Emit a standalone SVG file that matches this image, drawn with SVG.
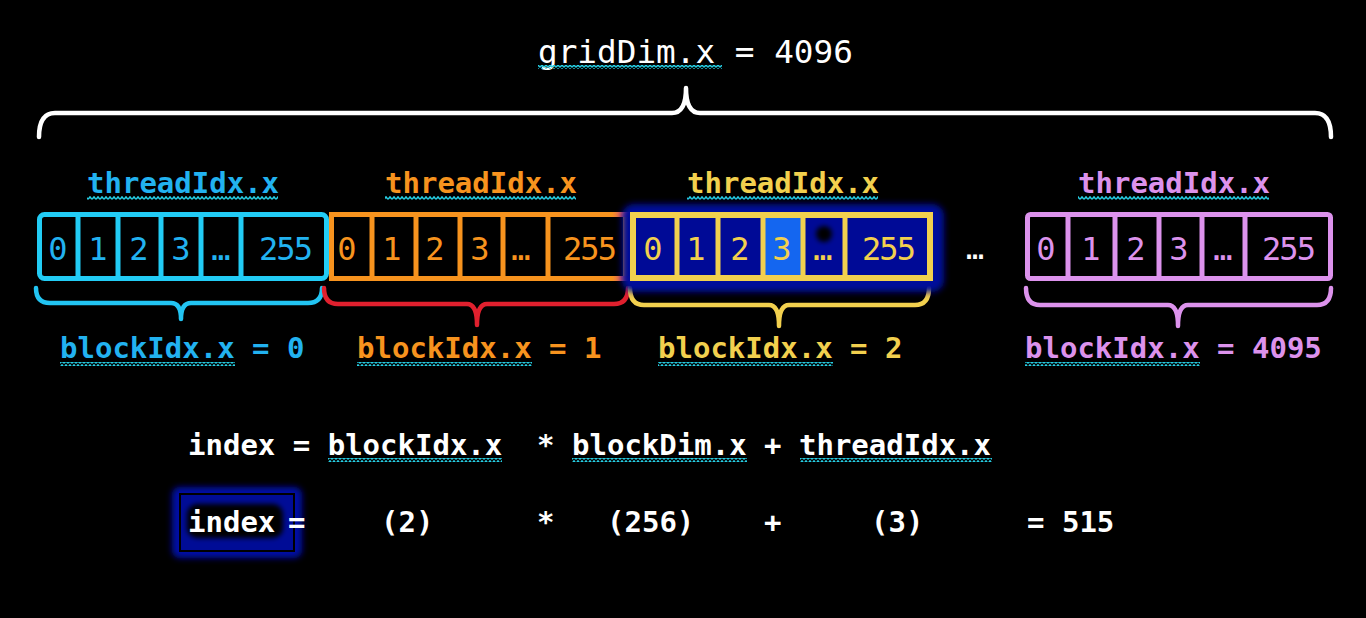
<svg xmlns="http://www.w3.org/2000/svg" width="1366" height="618" viewBox="0 0 1366 618">
<defs>
<pattern id="wave" width="4" height="4" patternUnits="userSpaceOnUse">
<polyline points="0,3.3 2,0.9 4,3.3" fill="none" stroke="#26D0E6" stroke-width="1.5"/>
</pattern>
<filter id="blur3" x="-20%" y="-20%" width="140%" height="140%"><feGaussianBlur stdDeviation="3"/></filter>
<filter id="blur2" x="-50%" y="-50%" width="200%" height="200%"><feGaussianBlur stdDeviation="2.5"/></filter>
<linearGradient id="og" x1="0" x2="1" y1="0" y2="0">
<stop offset="0" stop-color="#F7931E"/><stop offset="1" stop-color="#E23C9A"/>
</linearGradient>
</defs>
<style>
text{font-family:"DejaVu Sans Mono","Liberation Mono",monospace;}
.lbl{font-size:29px;font-weight:bold;}
.num{font-size:32px;text-anchor:middle;}
.n3{letter-spacing:-2px;}
.brace{fill:none;stroke-width:4.5;stroke-linecap:round;stroke-linejoin:round;}
.box{stroke-width:5;}
.div{stroke-width:5;}
.w{fill:#FFFFFF;}
</style>
<rect width="1366" height="618" fill="#000000"/>

<g id="grid-label">
<text x="538" y="63" class="w" style="font-size:32.7px">gridDim.x = 4096</text>
<rect x="538" y="65" width="184" height="4" fill="url(#wave)"/>
</g>

<g id="connectors">
<path class="brace" stroke="#FFFFFF" d="M39,137 Q39,113 55,113 L672,113 Q686,113 686,88 Q686,113 700,113 L1315,113 Q1331,113 1331,137"/>
<path class="brace" stroke="#22C4F2" d="M36,288 Q36,303 50,303 L171,303 Q181,303 181,319 Q181,303 191,303 L308,303 Q322,303 322,288"/>
<path class="brace" stroke="#E0202E" d="M324,288 Q324,304 338,304 L467,304 Q477,304 477,325 Q477,304 487,304 L614,304 Q628,304 628,288"/>
<path class="brace" stroke="#F2D04E" d="M630,288 Q630,305 644,305 L769,305 Q779,305 779,326 Q779,305 789,305 L915,305 Q929,305 929,288"/>
<path class="brace" stroke="#DC92EC" d="M1026,288 Q1026,305 1040,305 L1168,305 Q1178,305 1178,326 Q1178,305 1188,305 L1317,305 Q1331,305 1331,288"/>
</g>

<g id="block0">
<text x="87" y="193" class="lbl" fill="#22B2F0">threadIdx.x</text>
<rect x="87" y="196" width="191" height="4" fill="url(#wave)"/>
<rect x="39.5" y="214.5" width="287" height="64" rx="5" fill="none" stroke="#22CCF5" class="box"/>
<g stroke="#22CCF5" class="div">
<line x1="78" y1="215" x2="78" y2="279"/><line x1="118" y1="215" x2="118" y2="279"/><line x1="161" y1="215" x2="161" y2="279"/><line x1="201" y1="215" x2="201" y2="279"/><line x1="241" y1="215" x2="241" y2="279"/>
</g>
<g fill="#22B2F0" class="num">
<text x="58" y="260">0</text><text x="98" y="260">1</text><text x="139" y="260">2</text><text x="181" y="260">3</text><text x="221" y="260">…</text><text x="285" y="260" class="n3">255</text>
</g>
<text x="60" y="358" class="lbl" fill="#22B2F0">blockIdx.x = 0</text>
<rect x="60" y="362" width="175" height="4" fill="url(#wave)"/>
</g>

<g id="block1">
<text x="385" y="193" class="lbl" fill="#F7931E">threadIdx.x</text>
<rect x="385" y="196" width="191" height="4" fill="url(#wave)"/>
<rect x="331.5" y="214.5" width="294" height="64" fill="none" stroke="#F7931E" class="box"/>
<rect x="612" y="212" width="18" height="5" fill="url(#og)"/>
<rect x="612" y="276" width="18" height="5" fill="url(#og)"/>
<g stroke="#F7931E" class="div">
<line x1="372" y1="215" x2="372" y2="279"/><line x1="416" y1="215" x2="416" y2="279"/><line x1="460" y1="215" x2="460" y2="279"/><line x1="503" y1="215" x2="503" y2="279"/><line x1="548" y1="215" x2="548" y2="279"/>
</g>
<g fill="#F7931E" class="num">
<text x="347" y="260">0</text><text x="392" y="260">1</text><text x="435" y="260">2</text><text x="480" y="260">3</text><text x="521" y="260">…</text><text x="589" y="260" class="n3">255</text>
</g>
<text x="357" y="358" class="lbl" fill="#F7931E">blockIdx.x = 1</text>
<rect x="357" y="362" width="175" height="4" fill="url(#wave)"/>
</g>

<g id="block2">
<text x="687" y="193" class="lbl" fill="#F2D04E">threadIdx.x</text>
<rect x="687" y="196" width="191" height="4" fill="url(#wave)"/>
<rect x="622" y="204" width="322" height="88" rx="12" fill="#000C9A" filter="url(#blur3)"/>
<rect x="633" y="215" width="297" height="63" fill="#000A96" stroke="#F2D04E" stroke-width="6"/>
<rect x="765" y="218" width="36" height="57" fill="#1466F0"/>
<circle cx="824" cy="234" r="8" fill="#000000" filter="url(#blur2)"/>
<g stroke="#F2D04E" class="div">
<line x1="677" y1="215" x2="677" y2="279"/><line x1="718" y1="215" x2="718" y2="279"/><line x1="763" y1="215" x2="763" y2="279"/><line x1="803" y1="215" x2="803" y2="279"/><line x1="845" y1="215" x2="845" y2="279"/>
</g>
<g fill="#F2D04E" class="num">
<text x="653" y="260">0</text><text x="696" y="260">1</text><text x="740" y="260">2</text><text x="782" y="260">3</text><text x="823" y="260">…</text><text x="888" y="260" class="n3">255</text>
</g>
<text x="658" y="358" class="lbl" fill="#F2D04E">blockIdx.x = 2</text>
<rect x="658" y="362" width="175" height="4" fill="url(#wave)"/>
</g>

<g id="gap">
<text x="975" y="259" class="num w" style="font-size:30px">…</text>
</g>

<g id="block4095">
<text x="1078" y="193" class="lbl" fill="#DC92EC">threadIdx.x</text>
<rect x="1078" y="196" width="191" height="4" fill="url(#wave)"/>
<rect x="1027.5" y="214.5" width="303" height="64" rx="3" fill="none" stroke="#DC92EC" class="box"/>
<g stroke="#DC92EC" class="div">
<line x1="1068" y1="215" x2="1068" y2="279"/><line x1="1115" y1="215" x2="1115" y2="279"/><line x1="1159" y1="215" x2="1159" y2="279"/><line x1="1202" y1="215" x2="1202" y2="279"/><line x1="1245" y1="215" x2="1245" y2="279"/>
</g>
<g fill="#DC92EC" class="num">
<text x="1046" y="260">0</text><text x="1091" y="260">1</text><text x="1136" y="260">2</text><text x="1179" y="260">3</text><text x="1223" y="260">…</text><text x="1288" y="260" class="n3">255</text>
</g>
<text x="1025" y="358" class="lbl" fill="#DC92EC">blockIdx.x = 4095</text>
<rect x="1025" y="362" width="175" height="4" fill="url(#wave)"/>
</g>

<g id="formula">
<text x="188" y="455" class="lbl w">index = blockIdx.x</text>
<text x="537" y="455" class="lbl w">*</text>
<text x="572" y="455" class="lbl w">blockDim.x + threadIdx.x</text>
<rect x="328" y="458" width="174" height="4" fill="url(#wave)"/>
<rect x="572" y="458" width="175" height="4" fill="url(#wave)"/>
<rect x="800" y="458" width="192" height="4" fill="url(#wave)"/>
</g>

<g id="result">
<rect x="172" y="487" width="130" height="71" rx="8" fill="#0010A8" filter="url(#blur3)"/>
<rect x="180" y="494" width="114" height="57" fill="#000C96" stroke="#000000" stroke-width="2"/>
<rect x="187" y="504" width="96" height="34" rx="10" fill="#000000" filter="url(#blur2)"/>
<text x="188" y="532" class="lbl w">index</text>
<text x="288" y="532" class="lbl w">=</text>
<text x="381" y="532" class="lbl w">(2)</text>
<text x="537" y="532" class="lbl w">*</text>
<text x="607" y="532" class="lbl w">(256)</text>
<text x="764" y="532" class="lbl w">+</text>
<text x="871" y="532" class="lbl w">(3)</text>
<text x="1027" y="532" class="lbl w">= 515</text>
</g>
</svg>
